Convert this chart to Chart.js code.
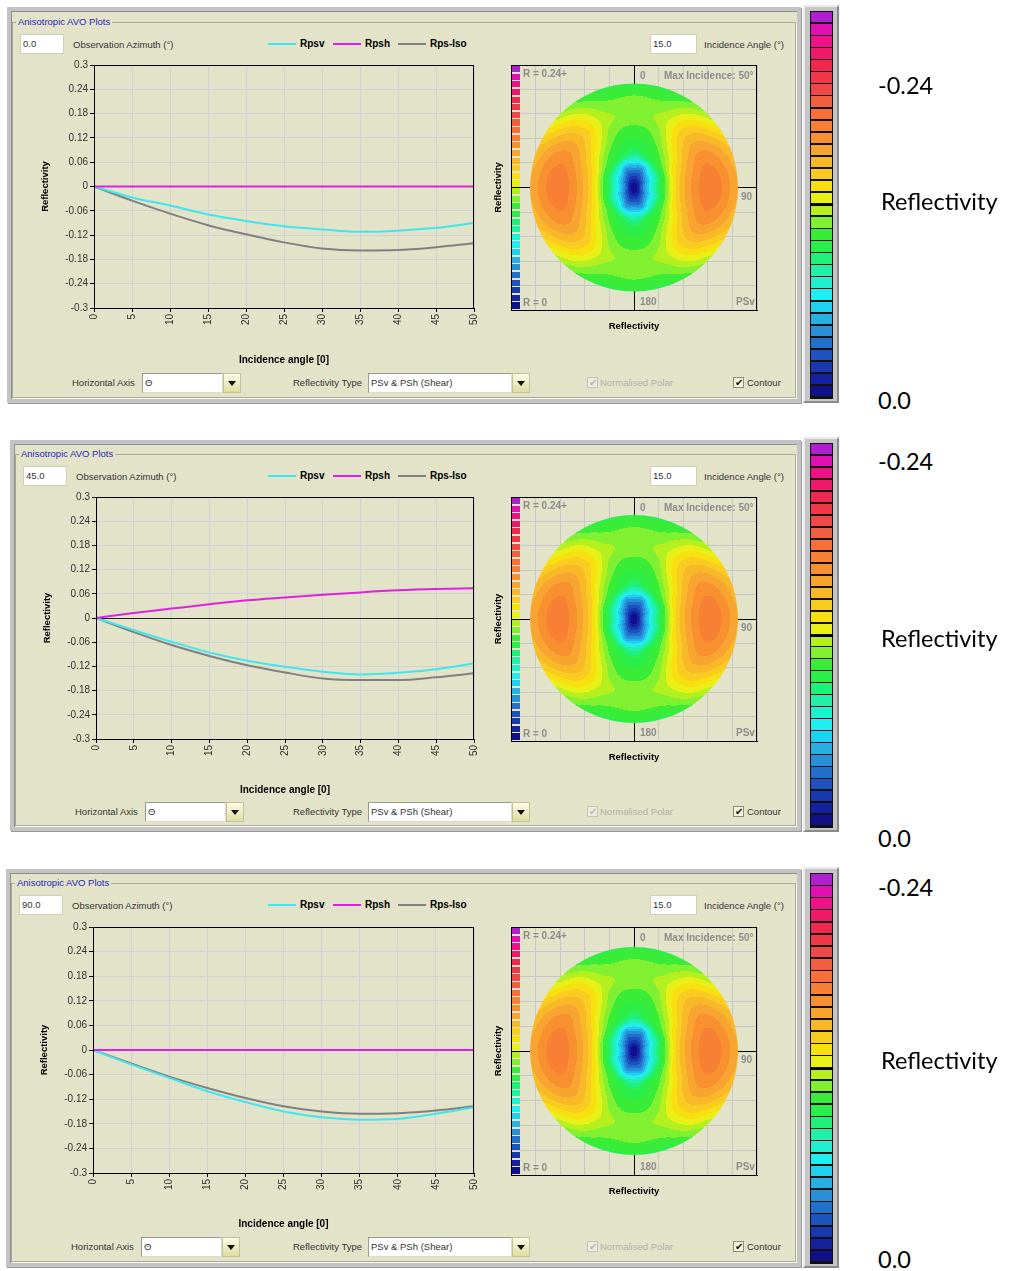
<!DOCTYPE html>
<html lang="en">
<head>
<meta charset="UTF-8" />
<title>Anisotropic AVO Plots</title>
<script src="https://cdn.jsdelivr.net/npm/chart.js"></script>
<style>
  body { margin:0; width:1010px; height:1271px; background:#fff; position:relative; overflow:hidden;
         font-family:"Liberation Sans", Arial, sans-serif; }
  .frame { position:absolute; background:#e3e3c9; border:4px solid #c3c3c3; box-sizing:border-box;
           box-shadow: inset 1px 1px 0 #8e8e8e, 1px 1px 0 #9a9a9a; }
  .group { position:absolute; border:1px solid #aaa996; box-sizing:border-box; box-shadow: 1px 1px 0 #fafaf0; }
  .txt { position:absolute; font-size:9.5px; color:#333; white-space:nowrap; line-height:12px; }
  .title { color:#2626b8; background:#e3e3c9; padding:0 2px; }
  .bold { font-weight:bold; color:#000; font-size:10px; }
  .pl { position:absolute; font-size:10px; font-weight:bold; color:#8c8c8c; white-space:nowrap; line-height:12px; }
  .box { position:absolute; background:#fff; border:1px solid #cfcfb6; box-sizing:border-box;
         font-size:9.5px; color:#333; padding:3px 2px; line-height:12px; }
  .combo { position:absolute; background:#fff; border:1px solid #9c9c8c; border-right-color:#dcdcc8;
           border-bottom-color:#dcdcc8; box-sizing:border-box; font-size:9.5px; color:#333; padding:3px 2px; line-height:12px; }
  .btn { position:absolute; box-sizing:border-box; border:1px solid #c2c29a;
         background:linear-gradient(#fdfde6, #dedca0); }
  .btn::after { content:''; position:absolute; left:4px; top:7px; border-left:4px solid transparent;
                border-right:4px solid transparent; border-top:5px solid #111; }
  .chk { position:absolute; width:11px; height:11px; box-sizing:border-box; border:1px solid #8c8c7c;
         background:#f4f4dc; font-size:10px; line-height:9px; text-align:center; color:#111; }
  .chk.off { border-color:#c4c4b4; color:#b8b8b0; background:#ecece0; }
  .strip { position:absolute; background:#c6c6c6; box-sizing:border-box; border-left:2px solid #eaeaea;
           border-top:2px solid #eaeaea; border-right:2px solid #8a8a8a; border-bottom:2px solid #8a8a8a; }
  .side { position:absolute; font-family:Lato, "Open Sans", sans-serif; font-size:23.5px; color:#000; line-height:26px; white-space:nowrap; }
  .holder { position:absolute; }
</style>
</head>
<body>
<script>
  // incidence angles of the AVO curves (degrees)
  const incidence = [0, 5, 10, 15, 20, 25, 30, 35, 40, 45, 50];

  // observation azimuth 0
  const rpsvAz0 = [0, -0.027, -0.047, -0.069, -0.085, -0.098, -0.106, -0.112, -0.109, -0.102, -0.09];
  const rpshAz0 = [0, 0, 0, 0, 0, 0, 0, 0, 0, 0, 0];
  const rpsIsoAz0 = [0, -0.035, -0.067, -0.0955, -0.118, -0.138, -0.153, -0.158, -0.157, -0.15, -0.14];

  // observation azimuth 45
  const rpsvAz45 = [0, -0.03, -0.059, -0.0855, -0.106, -0.121, -0.133, -0.14, -0.136, -0.127, -0.113];
  const rpshAz45 = [0, 0.0125, 0.0233, 0.034, 0.044, 0.051, 0.0575, 0.0635, 0.0685, 0.0717, 0.0735];
  const rpsIsoAz45 = [0, -0.035, -0.067, -0.094, -0.117, -0.135, -0.15, -0.154, -0.154, -0.147, -0.137];

  // observation azimuth 90
  const rpsvAz90 = [0, -0.035, -0.068, -0.1005, -0.127, -0.15, -0.164, -0.17, -0.168, -0.1555, -0.1395];
  const rpshAz90 = [0, 0, 0, 0, 0, 0, 0, 0, 0, 0, 0];
  const rpsIsoAz90 = [0, -0.033, -0.065, -0.0925, -0.117, -0.137, -0.15, -0.1555, -0.154, -0.1475, -0.137];

  const azimuthLabels = ["0.0", "45.0", "90.0"];
  const xTicks = [0, 5, 10, 15, 20, 25, 30, 35, 40, 45, 50];
  const yTicks = [-0.3, -0.24, -0.18, -0.12, -0.06, 0, 0.06, 0.12, 0.18, 0.24, 0.3];
  const yTickLabels = ["-0.3", "-0.24", "-0.18", "-0.12", "-0.06", "0", "0.06", "0.12", "0.18", "0.24", "0.3"];

  // polar PSv reflectivity magnitude,
  // one row per azimuth, columns = incidence
  const polarAzimuth = [0, 22.5, 45, 67.5, 90];
  const polarAz0 = [0, 0.02, 0.048, 0.08, 0.093, 0.099, 0.105, 0.111, 0.11, 0.104, 0.097];
  const polarAz22 = [0, 0.022, 0.046, 0.088, 0.097, 0.105, 0.111, 0.116, 0.112, 0.105, 0.097];
  const polarAz45 = [0, 0.03, 0.065, 0.095, 0.11, 0.125, 0.137, 0.142, 0.138, 0.128, 0.115];
  const polarAz67 = [0, 0.038, 0.072, 0.1, 0.128, 0.144, 0.155, 0.162, 0.16, 0.152, 0.143];
  const polarAz90 = [0, 0.045, 0.08, 0.106, 0.135, 0.152, 0.163, 0.17, 0.168, 0.16, 0.15];
  const maxIncidence = 50;

  // colour scale, 0 (bottom) to 0.24 (top)
  const bandColors = [
    "#10108a", "#1422a0", "#1838b0", "#1e52c0", "#2070cc", "#2890d8", "#28b0e4", "#20d0f0",
    "#20eef0", "#20f0d0", "#20f0a8", "#20f078", "#2cee48", "#38ec38", "#80f030", "#b4f020",
    "#e8f018", "#f8e010", "#f8cc20", "#f8b828", "#f8a430", "#f89030", "#f88034", "#f87038",
    "#f06040", "#f04848", "#f03848", "#f02850", "#f01868", "#f01088", "#e010b0", "#b020d0"
  ];
  const bandStep = 0.0075;
  const colorbarLabels = ["-0.24", "Reflectivity", "0.0"];

  const panels = [
    { top: 7, left: 7, bottom: 403, titleY: 16, inputY: 34, plotLeft: 94, plotTop: 65, plotBottom: 308,
      xTitleY: 360, ctrlY: 373, stripTop: 5, stripBottom: 403, labelY: [85, 201, 400] },
    { top: 440, left: 10, bottom: 831, titleY: 448, inputY: 466, plotLeft: 96, plotTop: 497, plotBottom: 739,
      xTitleY: 790, ctrlY: 802, stripTop: 437, stripBottom: 832, labelY: [461, 638, 838] },
    { top: 869, left: 6, bottom: 1267, titleY: 877, inputY: 895, plotLeft: 93, plotTop: 927, plotBottom: 1173,
      xTitleY: 1224, ctrlY: 1237, stripTop: 867, stripBottom: 1268, labelY: [887, 1060, 1259] },
  ];
  const curves = [
    [rpsvAz0, rpshAz0, rpsIsoAz0],
    [rpsvAz45, rpshAz45, rpsIsoAz45],
    [rpsvAz90, rpshAz90, rpsIsoAz90],
  ];

  Chart.defaults.font.family = '"Liberation Sans", Arial, sans-serif';
  const body = document.body;

  function add(cls, x, y, w, h, text, extra) {
    const d = document.createElement("div");
    d.className = cls;
    d.style.left = x + "px";
    d.style.top = y + "px";
    if (w != null) d.style.width = w + "px";
    if (h != null) d.style.height = h + "px";
    if (text != null) d.textContent = text;
    if (extra) Object.assign(d.style, extra);
    body.appendChild(d);
    return d;
  }

  function colorBlocks(x, y, w, h, gap, midLine) {
    const n = bandColors.length;
    const bh = h / n;
    for (let i = 0; i < n; i++) {
      const top = y + h - (i + 1) * bh;
      add("holder", x, top, w, bh - gap, null, { background: bandColors[i] });
    }
    if (midLine) add("holder", x - 1, y + h / 2 - 1, w + 2, 2, null, { background: "#000" });
  }

  const boxFrame = {
    id: "boxFrame",
    afterDraw(chart) {
      const { ctx, chartArea: a } = chart;
      ctx.save();
      ctx.strokeStyle = "#000";
      ctx.lineWidth = 1;
      ctx.strokeRect(Math.round(a.left) + 0.5, Math.round(a.top) + 0.5,
        Math.round(a.right - a.left) - 1, Math.round(a.bottom - a.top));
      ctx.restore();
    },
  };

  // smooth sampling of the polar table, mirrored at 0/90 azimuth and 0 incidence
  const polarRows = [polarAz0, polarAz22, polarAz45, polarAz67, polarAz90];
  function catmull(p0, p1, p2, p3, t) {
    return 0.5 * (2 * p1 + (-p0 + p2) * t + (2 * p0 - 5 * p1 + 4 * p2 - p3) * t * t +
      (-p0 + 3 * p1 - 3 * p2 + p3) * t * t * t);
  }
  function rowAt(r, th) {
    const row = polarRows[r];
    const last = row.length - 1;
    const f = Math.min(th / (incidence[1] - incidence[0]), last - 1e-6);
    const i = Math.floor(f), t = f - i;
    const g = (k) => row[k < 0 ? -k : Math.min(k, last)];
    return catmull(g(i - 1), g(i), g(i + 1), g(i + 2), t);
  }
  function fieldValue(th, az) {
    const last = polarRows.length - 1;
    const f = Math.min(az / (polarAzimuth[1] - polarAzimuth[0]), last - 1e-6);
    const j = Math.floor(f), t = f - j;
    const g = (k) => rowAt(k < 0 ? -k : k > last ? 2 * last - k : k, th);
    return catmull(g(j - 1), g(j), g(j + 1), g(j + 2), t);
  }
  const bandRgb = bandColors.map((h) => [1, 3, 5].map((k) => parseInt(h.slice(k, k + 2), 16)));

  const polarField = {
    id: "polarField",
    beforeDatasetsDraw(chart) {
      const { ctx, chartArea: a, scales } = chart;
      const sx = scales.x, sy = scales.y;
      const w = Math.ceil(a.right - a.left), h = Math.ceil(a.bottom - a.top);
      const off = document.createElement("canvas");
      off.width = w;
      off.height = h;
      const octx = off.getContext("2d");
      const img = octx.createImageData(w, h);
      for (let py = 0; py < h; py++) {
        const vy = sy.getValueForPixel(a.top + py + 0.5);
        for (let px = 0; px < w; px++) {
          const vx = sx.getValueForPixel(a.left + px + 0.5);
          const th = Math.hypot(vx, vy);
          if (th > maxIncidence + 1.5) continue;
          const az = Math.atan2(Math.abs(vx), Math.abs(vy)) * 180 / Math.PI;
          const v = fieldValue(th, az);
          const c = bandRgb[Math.max(0, Math.min(bandRgb.length - 1, Math.floor(v / bandStep)))];
          const o = (py * w + px) * 4;
          img.data[o] = c[0]; img.data[o + 1] = c[1]; img.data[o + 2] = c[2]; img.data[o + 3] = 255;
        }
      }
      octx.putImageData(img, 0, 0);
      const cx = sx.getPixelForValue(0), cy = sy.getPixelForValue(0);
      const r = sx.getPixelForValue(maxIncidence) - cx;
      ctx.save();
      ctx.beginPath();
      ctx.arc(cx, cy, r, 0, Math.PI * 2);
      ctx.clip();
      ctx.drawImage(off, a.left, a.top);
      ctx.restore();
    },
  };

  panels.forEach((p, idx) => {
    const right = 801;
    add("frame", p.left, p.top, right - p.left, p.bottom - p.top);
    add("group", p.left + 5, p.titleY + 6, right - p.left - 10, p.bottom - p.titleY - 11);
    add("txt title", p.left + 9, p.titleY, null, null, "Anisotropic AVO Plots");

    add("box", p.left + 13, p.inputY, 44, 20, azimuthLabels[idx]);
    add("txt", p.left + 66, p.inputY + 5, null, null, "Observation Azimuth (°)");
    const legend = [["Rpsv", "#3ee6f0", 268], ["Rpsh", "#e020e0", 333], ["Rps-Iso", "#808080", 398]];
    legend.forEach(([name, col, x]) => {
      add("holder", x, p.inputY + 9, 28, 1.5, null, { background: col });
      add("txt bold", x + 32, p.inputY + 4, null, null, name);
    });
    add("box", 650, p.inputY, 47, 20, "15.0");
    add("txt", 704, p.inputY + 5, null, null, "Incidence Angle (°)");

    // AVO curves
    const canvasLeft = p.plotLeft - 56;
    const canvasTop = p.plotTop - 10;
    const canvasBottom = p.xTitleY + 8;
    const holder = add("holder", canvasLeft, canvasTop, 488 - canvasLeft, canvasBottom - canvasTop);
    const cv = document.createElement("canvas");
    holder.appendChild(cv);
    const [rpsv, rpsh, iso] = curves[idx];
    const pts = (arr) => arr.map((v, i) => ({ x: incidence[i], y: v }));
    new Chart(cv, {
      type: "line",
      data: {
        datasets: [
          { label: "Rpsh", data: pts(rpsh), borderColor: "#e020e0" },
          { label: "Rpsv", data: pts(rpsv), borderColor: "#3ee6f0" },
          { label: "Rps-Iso", data: pts(iso), borderColor: "#808080" },
        ],
      },
      options: {
        responsive: true,
        maintainAspectRatio: false,
        animation: false,
        layout: { padding: { top: 10, right: 7 } },
        plugins: { legend: { display: false }, tooltip: { enabled: false } },
        elements: { point: { radius: 0 }, line: { borderWidth: 2, cubicInterpolationMode: "monotone" } },
        scales: {
          x: {
            type: "linear", min: 0, max: 50,
            afterBuildTicks: (s) => { s.ticks = xTicks.map((v) => ({ value: v })); },
            afterFit: (s) => { s.height = canvasBottom - p.plotBottom; },
            ticks: { autoSkip: false, minRotation: 90, maxRotation: 90, color: "#333", font: { size: 10 }, padding: 2 },
            grid: { color: "#d2d2d2", tickColor: "#000", tickLength: 4 },
            border: { color: "#000" },
            title: { display: true, text: "Incidence angle [0]", color: "#000",
                     font: { size: 10, weight: "bold" }, padding: { top: 0, bottom: 2 } },
          },
          y: {
            type: "linear", min: -0.3, max: 0.3,
            afterBuildTicks: (s) => { s.ticks = yTicks.map((v) => ({ value: v })); },
            afterFit: (s) => { s.width = 56; },
            ticks: { callback: (v, i) => yTickLabels[i], color: "#333", font: { size: 10 }, padding: 2 },
            grid: { color: (c) => (Math.abs(c.tick.value) < 1e-9 ? "#222" : "#d2d2d2"), tickColor: "#000", tickLength: 4 },
            border: { color: "#000" },
            title: { display: true, text: "Reflectivity", color: "#000",
                     font: { size: 9.5, weight: "bold" }, padding: { top: 2, bottom: 2 } },
          },
        },
      },
      plugins: [boxFrame],
    });

    // polar contour
    const bx0 = 511, bx1 = 757, by0 = p.plotTop, by1 = p.plotBottom + 2;
    const degPerPx = maxIncidence / 104;
    const xHalf = ((bx1 - bx0) / 2) * degPerPx;
    const yHalf = ((by1 - by0) / 2) * degPerPx;
    const pHolder = add("holder", 491, by0 - 3, 760 - 491, by1 + 24 - (by0 - 3));
    const pc = document.createElement("canvas");
    pHolder.appendChild(pc);
    const gridSteps = [-5, -4, -3, -2, -1, 0, 1, 2, 3, 4, 5];
    const gridColor = (c) => (Math.abs(c.tick.value) < 1e-9 ? "#000" : "#c6c6c6");
    new Chart(pc, {
      type: "scatter",
      data: { datasets: [{ data: [] }] },
      options: {
        responsive: true,
        maintainAspectRatio: false,
        animation: false,
        layout: { padding: { top: 3, right: 3 } },
        plugins: { legend: { display: false }, tooltip: { enabled: false } },
        scales: {
          x: {
            type: "linear", min: -xHalf, max: xHalf,
            afterBuildTicks: (s) => { s.ticks = gridSteps.map((k) => ({ value: (k * xHalf) / 5 })); },
            afterFit: (s) => { s.height = 24; },
            ticks: { display: false },
            grid: { color: gridColor, drawTicks: false },
            border: { color: "#000" },
            title: { display: true, text: "Reflectivity", color: "#000",
                     font: { size: 9.5, weight: "bold" }, padding: { top: 0, bottom: 2 } },
          },
          y: {
            type: "linear", min: -yHalf, max: yHalf,
            afterBuildTicks: (s) => { s.ticks = gridSteps.map((k) => ({ value: (k * yHalf) / 5 })); },
            afterFit: (s) => { s.width = 20; },
            ticks: { display: false },
            grid: { color: gridColor, drawTicks: false },
            border: { color: "#000" },
            title: { display: true, text: "Reflectivity", color: "#000",
                     font: { size: 9.5, weight: "bold" }, padding: { top: 2, bottom: 2 } },
          },
        },
      },
      plugins: [polarField, boxFrame],
    });
    colorBlocks(bx0 + 1, by0 + 1, 8, by1 - by0 - 1, 1.5, false);
    const cyMid = (by0 + by1) / 2;
    add("pl", 523, by0 + 3, null, null, "R = 0.24+");
    add("pl", 640, by0 + 5, null, null, "0");
    add("pl", 664, by0 + 5, null, null, "Max Incidence: 50°");
    add("pl", 741, cyMid + 3, null, null, "90");
    add("pl", 640, by1 - 14, null, null, "180");
    add("pl", 736, by1 - 14, null, null, "PSv");
    add("pl", 523, by1 - 13, null, null, "R = 0");

    // bottom controls
    add("txt", p.left + 65, p.ctrlY + 4, null, null, "Horizontal Axis");
    add("combo", p.left + 135, p.ctrlY, 81, 20, "Θ");
    add("btn", p.left + 216, p.ctrlY, 18, 20);
    add("txt", 293, p.ctrlY + 4, null, null, "Reflectivity Type");
    add("combo", 368, p.ctrlY, 144, 20, "PSv & PSh (Shear)");
    add("btn", 512, p.ctrlY, 18, 20);
    add("chk off", 587, p.ctrlY + 4, null, null, "✔");
    add("txt", 600, p.ctrlY + 4, null, null, "Normalised Polar", { color: "#b0b0a8" });
    add("chk", 733, p.ctrlY + 4, null, null, "✔");
    add("txt", 747, p.ctrlY + 4, null, null, "Contour");

    // side colour bar
    add("strip", 803, p.stripTop, 36, p.stripBottom - p.stripTop);
    add("holder", 810, p.stripTop + 6, 23, p.stripBottom - p.stripTop - 10, null, { background: "#111" });
    colorBlocks(811, p.stripTop + 7, 21, p.stripBottom - p.stripTop - 12, 1.6, true);
    add("side", 878, p.labelY[0] - 13, null, null, colorbarLabels[0]);
    add("side", 881, p.labelY[1] - 13, null, null, colorbarLabels[1]);
    add("side", 878, p.labelY[2] - 13, null, null, colorbarLabels[2]);
  });
</script>
</body>
</html>
